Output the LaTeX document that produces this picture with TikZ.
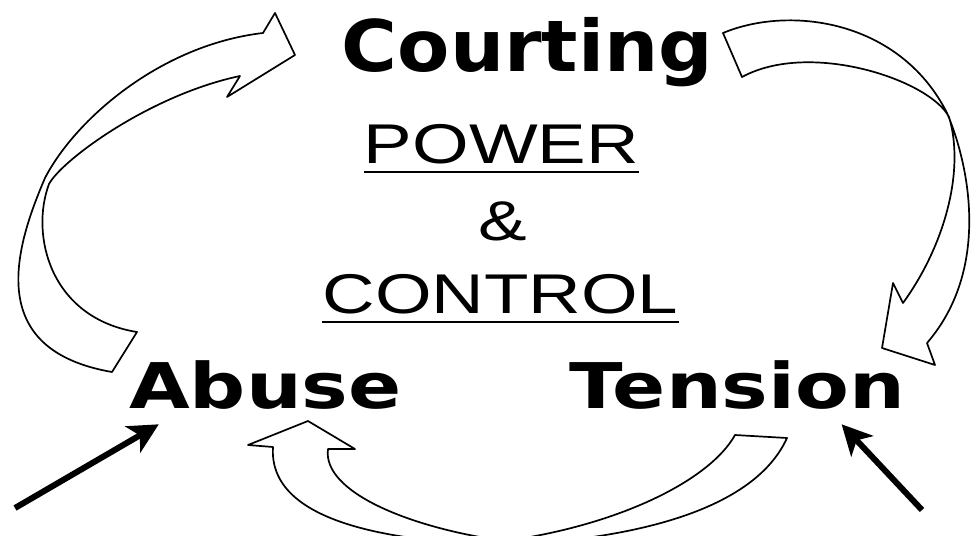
\documentclass[tikz,border=0pt]{standalone}
\usepackage{fontspec}
\usepackage{tikz}
\usetikzlibrary{arrows.meta, positioning}
\newfontfamily\courtFont[FakeStretch=1.07]{DejaVu Sans}
\newfontfamily\phaseFont[FakeStretch=1.245]{DejaVu Sans}
\newfontfamily\coreFont[FakeStretch=1.3]{Liberation Sans}
\definecolor{cycleInk}{HTML}{000000}

\begin{document}
\begin{tikzpicture}[x=0.5pt, y=-0.5pt,
    courtLabel/.style={inner sep=0pt, anchor=base, font=\courtFont\bfseries\fontsize{35.6}{40}\selectfont},
    stageLabel/.style={inner sep=0pt, anchor=base, font=\phaseFont\bfseries\fontsize{31.5}{36}\selectfont},
    coreLabel/.style={inner sep=0pt, anchor=base, font=\coreFont\fontsize{28}{32}\selectfont},
    underRule/.style={cycleInk, line width=1.3pt},
    ribbon/.style={cycleInk, line width=0.85pt, line join=round},
    pointer/.style={cycleInk, line width=3pt, -{Stealth[length=15pt, width=15pt, inset=4pt]}}]
  \useasboundingbox (0,0) rectangle (973,535);
  \fill[white] (0,0) rectangle (973,535);
  % etapas
  \node[courtLabel] (courting) at (527.5,72) {Courting};
  \node[stageLabel] (abuse) at (265.5,408) {Abuse};
  \node[stageLabel] (tension) at (737.5,408) {Tension};
  % centro
  \node[coreLabel] (power) at (501.5,163) {POWER};
  \node[coreLabel] (amp) at (503,240) {\&};
  \node[coreLabel] (control) at (500.5,313) {CONTROL};
  \draw[underRule] ([yshift=-4.5pt]power.base west) -- ([yshift=-4.5pt]power.base east);
  \draw[underRule] ([yshift=-4.5pt]control.base west) -- ([yshift=-4.5pt]control.base east);
  % abuse -> courting
  \draw[ribbon] (112,372) -- (137,332)
    .. controls (50,318) and (30,235) .. (49,184)
    .. controls (62,160) and (150,95) .. (240,76)
    -- (227,97) -- (295,55) -- (275,13) -- (263,33)
    .. controls (160,45) and (75,120) .. (45,178)
    .. controls (14,250) and (-15,350) .. (112,372)
    -- cycle;
  % courting -> tension
  \draw[ribbon] (723,33)
    .. controls (790,5) and (900,20) .. (947,113)
    .. controls (970,167) and (990,270) .. (927,343)
    -- (935,365) -- (882,348) -- (893,283) -- (903,303)
    .. controls (945,245) and (965,170) .. (949,117)
    .. controls (930,80) and (810,40) .. (742,77)
    -- cycle;
  % tension -> abuse
  \draw[ribbon] (273,447) -- (248,445) -- (308,421) -- (355,449) -- (328,449)
    .. controls (322,492) and (410,528) .. (505,541)
    .. controls (620,525) and (710,480) .. (735,435)
    -- (787,438)
    .. controls (752,515) and (620,540) .. (505,545)
    .. controls (390,542) and (268,522) .. (273,447)
    -- cycle;
  % flechas de entrada
  \coordinate (abuseFrom) at (15,508);
  \coordinate (tensionFrom) at (922,510);
  \draw[pointer] (abuseFrom) -- ([xshift=15pt, yshift=-7.5pt]abuse.south west);
  \draw[pointer] (tensionFrom) -- ([xshift=-32pt, yshift=-7.5pt]tension.south east);
\end{tikzpicture}
\end{document}
